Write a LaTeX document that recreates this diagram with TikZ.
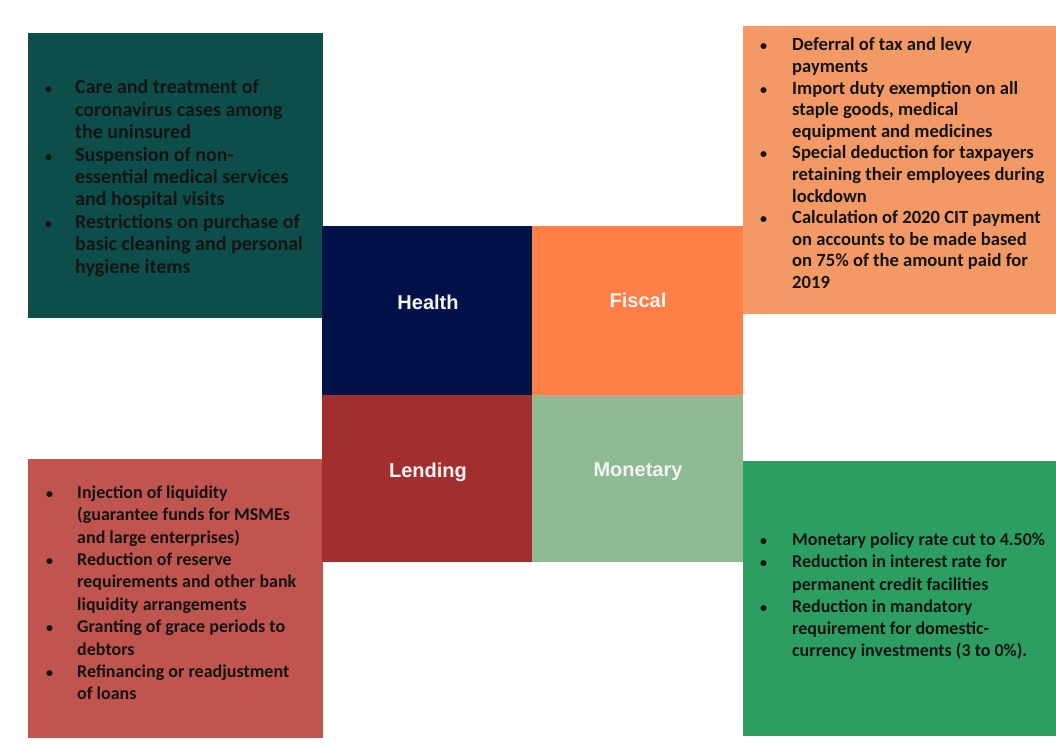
\documentclass[tikz,border=0pt]{standalone}
\usepackage{fontspec}
\setmainfont{Carlito}
\newfontfamily\labelfont{Liberation Sans}
\usepackage{array}
\definecolor{cTeal}{HTML}{0D4E4A}
\definecolor{cNavy}{HTML}{001248}
\definecolor{cOrange}{HTML}{FF7F47}
\definecolor{cLightOrange}{HTML}{F39966}
\definecolor{cDarkRed}{HTML}{A32E2E}
\definecolor{cRedBox}{HTML}{C0544E}
\definecolor{cLightGreen}{HTML}{8FBB92}
\definecolor{cGreenBox}{HTML}{2C9E62}
\definecolor{cText}{HTML}{141414}
\definecolor{cLabel}{HTML}{F4F4F4}
\newcommand{\smallbul}{\hspace*{2pt}{\fontsize{14}{14}\selectfont\textbullet}}
\begin{document}
\begin{tikzpicture}[x=1pt,y=-1pt,
  panel/.style={anchor=north west,inner sep=0pt,outer sep=0pt,draw=none},
  catlabel/.style={text=cLabel,font=\labelfont\bfseries\fontsize{20}{24}\selectfont,inner sep=0pt},
  bullettext/.style={anchor=north west,inner sep=0pt,text=cText,align=left}]
\useasboundingbox (0,0) rectangle (1056,752);
\fill[white] (0,0) rectangle (1056,752);
% outer text panels
\node[panel,fill=cTeal,minimum width=295pt,minimum height=285pt] (hpanel) at (28,33) {};
\node[panel,fill=cLightOrange,minimum width=313pt,minimum height=288pt] (fpanel) at (743,26) {};
\node[panel,fill=cRedBox,minimum width=295pt,minimum height=279pt] (lpanel) at (28,459) {};
\node[panel,fill=cGreenBox,minimum width=313pt,minimum height=275pt] (mpanel) at (743,461) {};
% centre cells
\node[panel,fill=cNavy,minimum width=210pt,minimum height=169pt] (hcell) at (322,226) {};
\node[panel,fill=cOrange,minimum width=211pt,minimum height=169pt] (fcell) at (532,226) {};
\node[panel,fill=cDarkRed,minimum width=210pt,minimum height=167pt] (lcell) at (322,395) {};
\node[panel,fill=cLightGreen,minimum width=211pt,minimum height=167pt] (mcell) at (532,395) {};
% centre labels
\node[catlabel] (hlab) at (428,302) {Health};
\node[catlabel] (flab) at (638,300) {Fiscal};
\node[catlabel] (llab) at (428,472) {Lending};
\node[catlabel] (mlab) at (638,472) {Monetary};
% bullet texts
\node[bullettext] (htext) at (43,78) {\bfseries\fontsize{20}{22.4}\selectfont
\begin{tabular}{@{}p{32pt}@{}l@{}}
\smallbul & Care and treatment of\\
 & coronavirus cases among\\
 & the uninsured\\
\smallbul & Suspension of non-\\
 & essential medical services\\
 & and hospital visits\\
\smallbul & Restrictions on purchase of\\
 & basic cleaning and personal\\
 & hygiene items
\end{tabular}};
\node[bullettext] (ftext) at (758,35.5) {\bfseries\fontsize{18.6}{21.6}\selectfont
\begin{tabular}{@{}p{34pt}@{}l@{}}
\smallbul & Deferral of tax and levy\\
 & payments\\
\smallbul & Import duty exemption on all\\
 & staple goods, medical\\
 & equipment and medicines\\
\smallbul & Special deduction for taxpayers\\
 & retaining their employees during\\
 & lockdown\\
\smallbul & Calculation of 2020 CIT payment\\
 & on accounts to be made based\\
 & on 75\% of the amount paid for\\
 & 2019
\end{tabular}};
\node[bullettext] (ltext) at (44,482.5) {\bfseries\fontsize{18}{22.4}\selectfont
\begin{tabular}{@{}p{33pt}@{}l@{}}
\smallbul & Injection of liquidity\\
 & (guarantee funds for MSMEs\\
 & and large enterprises)\\
\smallbul & Reduction of reserve\\
 & requirements and other bank\\
 & liquidity arrangements\\
\smallbul & Granting of grace periods to\\
 & debtors\\
\smallbul & Refinancing or readjustment\\
 & of loans
\end{tabular}};
\node[bullettext] (mtext) at (758,530) {\bfseries\fontsize{18}{22.2}\selectfont
\begin{tabular}{@{}p{34pt}@{}l@{}}
\smallbul & Monetary policy rate cut to 4.50\%\\
\smallbul & Reduction in interest rate for\\
 & permanent credit facilities\\
\smallbul & Reduction in mandatory\\
 & requirement for domestic-\\
 & currency investments (3 to 0\%).
\end{tabular}};
\end{tikzpicture}
\end{document}
